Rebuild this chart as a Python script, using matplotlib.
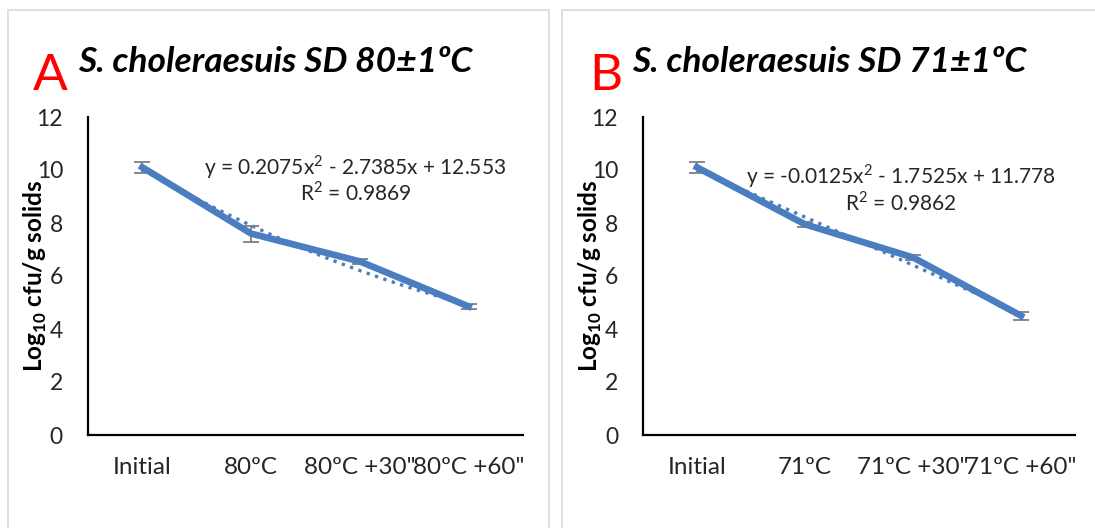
import numpy as np
import matplotlib.pyplot as plt
from matplotlib.patches import Rectangle

plt.rcParams['font.family'] = ['Lato', 'DejaVu Sans']
plt.rcParams['mathtext.fontset'] = 'custom'
plt.rcParams['mathtext.rm'] = 'Lato'
plt.rcParams['mathtext.bf'] = 'Lato:bold'

# Panel A data (80 ºC)
cats_a = ['Initial', '80ºC', '80ºC +30"', '80ºC +60"']
vals_a = [10.1, 7.6, 6.55, 4.85]
err_a = [0.2, 0.3, 0.1, 0.1]
coef_a = [0.2075, -2.7385, 12.553]
eq_a = ['y = 0.2075x$^2$ - 2.7385x + 12.553', 'R$^2$ = 0.9869']

# Panel B data (71 ºC)
cats_b = ['Initial', '71ºC', '71ºC +30"', '71ºC +60"']
vals_b = [10.1, 7.95, 6.7, 4.5]
err_b = [0.2, 0.1, 0.1, 0.15]
coef_b = [-0.0125, -1.7525, 11.778]
eq_b = ['y = -0.0125x$^2$ - 1.7525x + 11.778', 'R$^2$ = 0.9862']

blue = '#4A7EC0'
W, H = 1095, 528

fig = plt.figure(figsize=(W / 100, H / 100), dpi=100)

# light grey frames around each panel
for x0, w in [(8, 541), (562, 540)]:
    fig.patches.append(Rectangle((x0 / W, -0.01), w / W, 1 - 10 / H + 0.01,
                                 transform=fig.transFigure, fill=False,
                                 edgecolor='#d9d9d9', lw=1.2))


def panel(left, width, cats, vals, err, coef, eq, eq_x, eq_y, letter, title, lx, tx):
    ax = fig.add_axes([left / W, 1 - 435 / H, width / W, 318 / H])
    x = np.arange(1, len(cats) + 1)
    xs = np.linspace(1, len(cats), 100)
    ax.plot(xs, np.polyval(coef, xs), ':', color=blue, lw=2.4)
    ax.errorbar(x, vals, yerr=err, color=blue, lw=4.8, ecolor='#7f7f7f',
                elinewidth=1.3, capsize=6, capthick=1.3, zorder=3)
    ax.set_xlim(0.5, len(cats) + 0.5)
    ax.set_ylim(0, 12)
    ax.set_yticks(range(0, 13, 2))
    ax.set_xticks(x)
    ax.set_xticklabels(cats)
    ax.tick_params(axis='x', length=0, labelsize=17.5, colors='#262626', pad=16)
    ax.tick_params(axis='y', length=0, labelsize=16.5, colors='#262626', pad=18)
    for s in ['top', 'right']:
        ax.spines[s].set_visible(False)
    for s in ['left', 'bottom']:
        ax.spines[s].set_linewidth(1.6)
    ax.set_ylabel('Log$_{\\mathbf{10}}$ cfu/g solids', fontsize=17.5, fontweight='bold')
    ax.yaxis.set_label_coords(-0.09, 0.5)
    for line, yy in zip(eq, eq_y):
        ax.text(eq_x, yy, line, ha='center', va='center', fontsize=15,
                color='#262626')
    fig.text(lx / W, 1 - 90 / H, letter, color='red', fontsize=37)
    fig.text(tx / W, 1 - 72 / H, title, fontsize=25.5, fontweight='bold',
             fontstyle='italic')
    return ax


panel(88, 435, cats_a, vals_a, err_a, coef_a, eq_a, 2.96, (10.1, 9.15),
      'A', 'S. choleraesuis SD 80±1ºC', 33, 78)
panel(643, 432, cats_b, vals_b, err_b, coef_b, eq_b, 2.89, (9.77, 8.78),
      'B', 'S. choleraesuis SD 71±1ºC', 589, 632)

fig.savefig('out.png', dpi=100)
